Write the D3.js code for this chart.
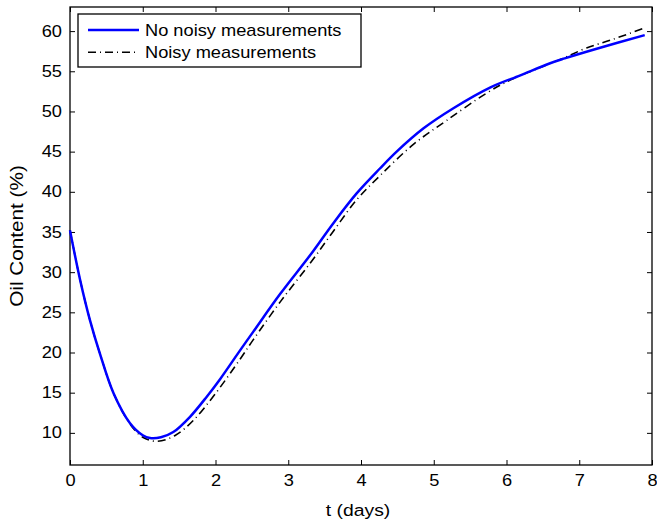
<!DOCTYPE html>
<html>
<head>
<meta charset="utf-8">
<script src="https://cdn.jsdelivr.net/npm/d3@7"></script>
<style>
    html, body { margin: 0; padding: 0; background: #fff; }
    svg { display: block; }
    text { font-family: "Liberation Sans", Arial, Helvetica, sans-serif; fill: #000; }
</style>
</head>
<body>
<svg id="chart" width="657" height="525"></svg>
<script>
// ====================================================================
// DATA
// ====================================================================
const tClean = [0, 0.14, 0.275, 0.41, 0.6, 0.825, 1.0, 1.1, 1.25, 1.42, 1.65, 1.88, 2.06, 2.34, 2.52,
    2.89, 3.30, 3.62, 3.94, 4.26, 4.49, 4.86, 5.27, 5.78, 6.19, 6.6, 6.8, 7.24, 7.9];
const oilClean = [35.2, 29.0, 24.0, 19.9, 14.9, 11.2, 9.7, 9.35, 9.45, 10.1, 12.0, 14.5, 16.65, 20.3, 22.6,
    27.3, 32.1, 36.1, 39.8, 42.9, 45.0, 47.9, 50.4, 53.0, 54.5, 56.0, 56.6, 57.8, 59.5];

const tNoisy = [0, 0.14, 0.275, 0.41, 0.6, 0.825, 1.0, 1.2, 1.45, 1.7, 2.0, 2.34, 2.52, 2.89, 3.30,
    3.62, 3.94, 4.26, 4.72, 5.18, 5.73, 6.05, 6.5, 6.8, 7.1, 7.47, 7.9];
const oilNoisy = [35.2, 29.0, 24.0, 19.9, 14.9, 11.1, 9.45, 8.95, 9.7, 11.6, 14.9, 19.2, 21.6, 26.3, 31.1,
    35.1, 39.0, 42.0, 45.9, 48.9, 52.3, 53.9, 55.6, 56.7, 57.9, 59.0, 60.4];

const xTicks = [0, 1, 2, 3, 4, 5, 6, 7, 8];
const yTicks = [10, 15, 20, 25, 30, 35, 40, 45, 50, 55, 60];
const seriesNames = ["No noisy measurements", "Noisy measurements"];

document.addEventListener('DOMContentLoaded', function () {

    // ====================================================================
    // 1. CONFIGURATION
    // ====================================================================
    const CONFIG = {
        width: 657,
        height: 525,
        margins: { top: 7, right: 5, bottom: 60, left: 70 },
        xDomain: [0, 8],
        yDomain: [6, 63],
        tickLength: 5,
        fontSize: 16,
        textStretch: 1.14,   // the reference text looks a bit wider than plain Arial
        dashDot: "8,4,1,4"
    };

    const svg = d3.select("#chart");
    const innerW = CONFIG.width - CONFIG.margins.left - CONFIG.margins.right;
    const innerH = CONFIG.height - CONFIG.margins.top - CONFIG.margins.bottom;

    const x = d3.scaleLinear().domain(CONFIG.xDomain).range([0, innerW]);
    const y = d3.scaleLinear().domain(CONFIG.yDomain).range([innerH, 0]);

    const g = svg.append("g")
        .attr("transform", `translate(${CONFIG.margins.left}, ${CONFIG.margins.top})`);

    // stretch a text element horizontally around its own anchor
    function stretch(sel) {
        sel.each(function () {
            const t = d3.select(this);
            const tx = +t.attr("x") || 0;
            const ty = +t.attr("y") || 0;
            t.attr("x", 0).attr("y", 0)
                .attr("transform", `translate(${tx},${ty}) scale(${CONFIG.textStretch},1)`);
        });
    }

    // ====================================================================
    // 2. AXES (ticks point inward on all four sides)
    // ====================================================================
    const xAxis = g.append("g")
        .attr("transform", `translate(0, ${innerH})`)
        .call(d3.axisBottom(x).tickValues(xTicks).tickSize(-CONFIG.tickLength)
            .tickSizeOuter(0).tickPadding(10).tickFormat(d3.format("d")));

    const yAxis = g.append("g")
        .call(d3.axisLeft(y).tickValues(yTicks).tickSize(-CONFIG.tickLength)
            .tickSizeOuter(0).tickPadding(8).tickFormat(d3.format("d")));

    g.append("g")
        .call(d3.axisTop(x).tickValues(xTicks).tickSize(-CONFIG.tickLength)
            .tickSizeOuter(0).tickFormat(""));

    g.append("g")
        .attr("transform", `translate(${innerW}, 0)`)
        .call(d3.axisRight(y).tickValues(yTicks).tickSize(-CONFIG.tickLength)
            .tickSizeOuter(0).tickFormat(""));

    g.selectAll(".domain").remove();
    g.selectAll(".tick line").attr("stroke", "#000").attr("stroke-width", 1);

    [xAxis, yAxis].forEach(a => {
        a.selectAll("text")
            .attr("font-size", CONFIG.fontSize)
            .attr("font-family", "Liberation Sans, Arial, sans-serif")
            .attr("fill", "#000")
            .call(stretch);
    });

    g.append("rect")
        .attr("x", 0).attr("y", 0)
        .attr("width", innerW).attr("height", innerH)
        .attr("fill", "none")
        .attr("stroke", "#000")
        .attr("stroke-width", 1.3);

    // ====================================================================
    // 3. CURVES
    // ====================================================================
    const clean = tClean.map((t, i) => ({ t: t, v: oilClean[i] }));
    const noisy = tNoisy.map((t, i) => ({ t: t, v: oilNoisy[i] }));

    const line = d3.line()
        .x(d => x(d.t))
        .y(d => y(d.v))
        .curve(d3.curveCatmullRom.alpha(0.5));

    g.append("path")
        .datum(noisy)
        .attr("d", line)
        .attr("fill", "none")
        .attr("stroke", "#000")
        .attr("stroke-width", 1.6)
        .attr("stroke-dasharray", CONFIG.dashDot);

    g.append("path")
        .datum(clean)
        .attr("d", line)
        .attr("fill", "none")
        .attr("stroke", "#0000ff")
        .attr("stroke-width", 2.5);

    // ====================================================================
    // 4. AXIS LABELS
    // ====================================================================
    svg.append("text")
        .attr("x", CONFIG.margins.left + innerW / 2 - 3)
        .attr("y", 516)
        .attr("text-anchor", "middle")
        .attr("font-size", 17)
        .text("t (days)")
        .call(stretch);

    // the y label reads longer than the tick text in the reference
    svg.append("text")
        .attr("transform", `translate(23, ${CONFIG.margins.top + innerH / 2}) rotate(-90) scale(1.22, 1.1)`)
        .attr("text-anchor", "middle")
        .attr("font-size", 17)
        .text("Oil Content (%)");

    // ====================================================================
    // 5. LEGEND
    // ====================================================================
    const legend = svg.append("g").attr("transform", "translate(78, 14)");

    legend.append("rect")
        .attr("width", 283).attr("height", 53)
        .attr("fill", "#fff")
        .attr("stroke", "#000")
        .attr("stroke-width", 1.3);

    const legendRows = [
        { name: seriesNames[0], color: "#0000ff", width: 2.5, dash: null },
        { name: seriesNames[1], color: "#000", width: 1.6, dash: CONFIG.dashDot }
    ];

    legendRows.forEach((r, i) => {
        const cy = 16 + i * 22.3;
        legend.append("line")
            .attr("x1", 10).attr("x2", 61)
            .attr("y1", cy).attr("y2", cy)
            .attr("stroke", r.color)
            .attr("stroke-width", r.width)
            .attr("stroke-dasharray", r.dash);
        legend.append("text")
            .attr("x", 67).attr("y", cy + 5.7)
            .attr("font-size", CONFIG.fontSize)
            .text(r.name)
            .call(stretch);
    });
});
</script>
</body>
</html>
